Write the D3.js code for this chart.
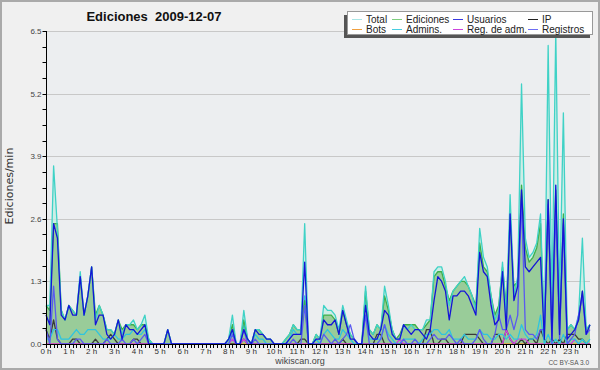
<!DOCTYPE html>
<html>
<head>
<meta charset="utf-8">
<script src="https://cdn.jsdelivr.net/npm/d3@7"></script>
<style>
  body { margin: 0; background: #fff; }
  svg text { font-family: "Liberation Sans", Arial, sans-serif; }
</style>
</head>
<body>
<svg id="chart" width="600" height="370"></svg>
<script>
// 10-minute buckets, edits per minute
const hourLabels = d3.range(24).map(h => h + " h");
const yTicks = [0, 1.3, 2.6, 3.9, 5.2, 6.5];

const total = [0.8,0.8,3.7,2.4,0.7,0.5,0.8,0.7,0.6,1.5,0.6,1.0,1.6,0.5,0.8,0.6,0.3,0.3,0.2,0.5,0.2,0.4,0.4,0.5,0.3,0.4,0.6,0.1,0,0,0,0,0.3,0,0,0,
  0,0,0,0,0,0,0,0,0,0,0,0,
  0.1,0.6,0,0,0.7,0.1,0,0.3,0.3,0.2,0.1,0.1,
  0,0,0,0.1,0.2,0.4,0.3,0.3,2.5,0,0,0.2,
  0.1,0.8,0.7,0.7,0.6,0.3,0.8,0.5,0.2,0.1,0,0,
  1.2,0.3,0.2,0.4,0.3,1.2,0.8,0.3,0.1,0.1,0.4,0.3,
  0.4,0.3,0.3,0.3,0.5,0.5,1.5,1.6,1.6,1.3,0.8,1.1,
  1.2,1.3,1.4,1.2,1.0,0.7,2.4,1.8,1.6,1.0,0.5,0.7,
  1.7,0.6,3.1,1.0,1.4,5.4,2.2,1.8,1.9,2.1,2.7,0.2,
  6.2,0.8,6.5,0.9,4.8,0.3,0.4,0.3,0.6,2.2,0.3,0.4];

const ediciones = [0.8,0.7,2.5,2.5,0.7,0.5,0.8,0.7,0.6,1.4,0.6,1.0,1.6,0.6,0.8,0.6,0.3,0.3,0.2,0.5,0.3,0.4,0.4,0.4,0.3,0.4,0.4,0.1,0,0,0,0,0.3,0,0,0,
  0,0,0,0,0,0,0,0,0,0,0,0,
  0.1,0.4,0,0,0.5,0.1,0,0.3,0.3,0.2,0.1,0.1,
  0,0,0,0.1,0.2,0.4,0.3,0.3,0.9,0,0,0.2,
  0.1,0.6,0.6,0.6,0.5,0.2,0.7,0.4,0.2,0.1,0,0,
  1.1,0.3,0.2,0.4,0.3,1.0,0.7,0.3,0.1,0.2,0.4,0.4,
  0.4,0.4,0.3,0.3,0.4,0.5,1.4,1.5,1.5,1.2,0.9,1.1,
  1.2,1.3,1.3,1.2,1.0,0.8,2.1,1.6,1.5,1.0,0.6,0.8,
  1.6,0.8,2.6,1.2,1.3,3.3,2.0,1.7,1.8,2.0,2.5,0.2,
  3.0,0.2,3.2,0.3,2.7,0.3,0.4,0.3,0.5,1.1,0.3,0.4];

const usuarios = [0.6,0.4,2.5,2.2,0.6,0.5,0.8,0.6,0.6,1.4,0.6,1.0,1.6,0.4,0.6,0.6,0.2,0.1,0.2,0.5,0.1,0.4,0.3,0.3,0.2,0.3,0.4,0,0,0,0,0,0.3,0,0,0,
  0,0,0,0,0,0,0,0,0,0,0,0,
  0.1,0.3,0,0,0.3,0.1,0,0.3,0.2,0.2,0.1,0.1,
  0,0,0,0,0.1,0.2,0.2,0.2,1.7,0,0,0.1,
  0.1,0.5,0.4,0.4,0.5,0.2,0.7,0.4,0.1,0.1,0,0,
  0.8,0.2,0.1,0.1,0.3,0.7,0.6,0.2,0.1,0.1,0.4,0.3,
  0.2,0.3,0.3,0.2,0.1,0.3,0.9,1.4,1.3,1.1,0.5,1.0,
  1.0,1.1,1.1,1.0,0.8,0.6,1.9,1.5,1.4,0.8,0.4,0.5,
  1.5,0.3,2.7,0.9,1.2,3.2,1.6,1.5,1.6,1.7,1.8,0.1,
  3.0,0.1,3.3,0.2,2.6,0.1,0.2,0.3,0.5,1.1,0.2,0.4];

const ip = [0.3,0.1,0.5,0.1,0,0,0,0.1,0.1,0,0,0,0,0.1,0,0,0.1,0.2,0.1,0,0,0,0,0.1,0.1,0,0,0,0,0,0,0,0,0,0,0,
  0,0,0,0,0,0,0,0,0,0,0,0,
  0,0,0,0,0.1,0,0,0,0,0,0,0,
  0,0,0,0,0,0,0,0.1,0.1,0,0,0,
  0,0,0,0,0,0,0.1,0,0,0,0,0,
  0,0,0,0.2,0.2,0,0,0,0,0,0,0,
  0,0,0,0,0.3,0.3,0,0,0.1,0.1,0,0,
  0,0,0.2,0.2,0.2,0.2,0.1,0,0,0,0.2,0.2,
  0,0.3,0.1,0,0,0.1,0,0.1,0.1,0,0.3,0.1,
  0,0.1,0,0.1,0,0.2,0.2,0.2,0.1,0.1,0,0];

const bots = d3.range(144).map(() => 0);

const admins = [0.1,0.1,0.3,0.3,0.1,0.1,0.1,0.2,0.3,0.2,0.2,0.3,0.3,0.3,0.2,0.1,0.1,0.1,0.2,0.1,0.1,0.2,0.2,0.3,0.2,0.2,0.3,0.1,0,0,0,0,0,0,0,0,
  0,0,0,0,0,0,0,0,0,0,0,0,
  0,0.3,0,0,0.4,0.1,0,0.2,0.1,0.1,0,0,
  0,0,0,0,0.1,0.3,0.2,0.2,1.0,0,0,0.1,
  0,0.2,0.3,0.2,0.1,0.1,0.3,0.2,0.1,0,0,0,
  0.9,0.1,0.1,0.1,0.1,0.4,0.2,0.1,0,0,0.1,0.1,
  0.1,0.1,0,0.1,0.2,0.2,0.3,0.3,0.2,0.2,0.3,0.1,
  0.1,0.1,0.2,0.1,0.1,0.1,0.3,0.2,0.2,0.1,0.1,0.2,
  0.2,0.1,0.2,0.1,0.1,0.4,0.2,0.1,0.1,0.2,0.6,0,
  0.2,0,0.1,0,0.2,0,0.1,0.1,0,0.1,0,0.1];

const registros = [0.3,0,1.2,0.1,0,0,0,0,0.1,0.1,0,0,0,0,0,0,0.1,0,0,0,0.1,0,0,0.1,0,0.1,0.2,0,0,0,0,0,0,0,0,0,
  0,0,0,0,0,0,0,0,0,0,0,0,
  0,0.2,0,0,0.3,0,0,0.1,0,0,0,0,
  0,0,0,0,0,0.1,0,0,0.8,0,0,0,
  0,0.2,0.1,0,0.1,0,0.1,0.2,0.4,0.1,0,0,
  0.6,0,0,0,0.1,0.4,0.1,0,0,0,0.1,0,
  0,0.1,0,0,0,0.1,0.2,0.1,0.1,0.1,0.2,0.1,
  0,0.1,0,0,0,0.1,0.3,0.1,0,0,0.2,0.6,
  0.3,0.3,0.6,0.3,0.6,3.0,0.3,0.2,0.2,0.1,0.3,0.3,
  2.9,0,2.8,0.1,2.5,0,0.1,0.2,0.6,1.0,0.2,0.3];

const regAdm = [0,0,0,0,0,0,0,0,0,0,0,0,0,0,0,0,0,0,0,0,0,0,0,0,0,0,0,0,0,0,0,0,0,0,0,0,
  0,0,0,0,0,0,0,0,0,0,0,0,
  0,0.1,0,0,0.1,0,0,0,0,0,0,0,
  0,0,0,0,0,0,0,0,0,0,0,0,
  0,0,0,0,0,0,0,0,0,0,0,0,
  0,0,0,0,0,0,0,0,0,0.1,0,0,
  0,0,0,0,0,0,0,0,0,0,0,0,
  0,0,0,0,0,0,0,0,0,0,0,0,
  0,0.3,0.1,0,0.1,0.1,0.1,0,0,0,0,0,
  0,0,0,0,0,0,0,0.1,0,0,0,0];

const legendNames = ["Total", "Ediciones", "Usuarios", "IP", "Bots", "Admins.", "Reg. de adm.", "Registros"];
const legendColors = ["#a9e6e6", "#7fcf7f", "#3a3ae0", "#222222", "#f0a040", "#48cde0", "#cc44dd", "#6e6ef2"];

const svg = d3.select("#chart");

const x = d3.scaleLinear().domain([0, 143]).range([46, 590]);
const y = d3.scaleLinear().domain([0, 6.5]).range([344, 31]);

// background + frame
svg.append("rect").attr("x", 0).attr("y", 0).attr("width", 600).attr("height", 370).attr("fill", "#f0f0f0");
svg.append("rect").attr("x", 1).attr("y", 1).attr("width", 598).attr("height", 368)
  .attr("fill", "none").attr("stroke", "#aaaaaa").attr("stroke-width", 2);

// plot area
svg.append("rect").attr("x", 46).attr("y", 31).attr("width", 544).attr("height", 313).attr("fill", "#eceef0");

// grid
svg.append("g").selectAll("line").data(yTicks.slice(1)).join("line")
  .attr("x1", 46).attr("x2", 590)
  .attr("y1", d => Math.round(y(d)) + 0.5).attr("y2", d => Math.round(y(d)) + 0.5)
  .attr("stroke", "#c8c8c8").attr("stroke-width", 1);

const idx = d3.range(144);
const area = vals => d3.area().x(i => x(i)).y0(y(0)).y1(i => y(vals[i]))(idx);
const line = vals => d3.line().x(i => x(i)).y(i => y(vals[i]))(idx);

const plot = svg.append("g");
plot.append("path").attr("d", area(total)).attr("fill", "#c4ece4").attr("opacity", 0.8);
plot.append("path").attr("d", area(ediciones)).attr("fill", "#99cc99");

const lines = [
  [bots, "#f0a040"],
  [ip, "#3a3a3a"],
  [regAdm, "#cc44dd"],
  [admins, "#2ec4e0"],
  [ediciones, "#3db04a"],
  [total, "#3fd2c6"],
  [registros, "#5a5af0"],
  [usuarios, "#1414d8"]
];
lines.forEach(([vals, c]) => {
  plot.append("path").attr("d", line(vals)).attr("fill", "none")
    .attr("stroke", c).attr("stroke-width", 1.3).attr("stroke-linejoin", "round");
});

// y axis
const minor = d3.range(0, 6.5001, 0.325);
const yAxis = svg.append("g").attr("transform", "translate(46.5,0)");
yAxis.append("line").attr("x1", 0).attr("x2", 0).attr("y1", 31).attr("y2", 344).attr("stroke", "#000");
yAxis.selectAll(".mt").data(minor).join("line")
  .attr("x1", -4).attr("x2", 0)
  .attr("y1", d => Math.round(y(d)) + 0.5).attr("y2", d => Math.round(y(d)) + 0.5)
  .attr("stroke", "#000");
yAxis.selectAll("text").data(yTicks).join("text")
  .attr("x", -5).attr("y", d => y(d) + 3)
  .attr("text-anchor", "end").attr("font-size", 8).attr("fill", "#444")
  .text(d => d3.format(".1f")(d));

// x axis
const xAxis = svg.append("g");
xAxis.append("line").attr("x1", 46).attr("x2", 590).attr("y1", 344.5).attr("y2", 344.5).attr("stroke", "#000");
xAxis.selectAll(".xt").data(idx).join("line")
  .attr("x1", i => Math.round(x(i)) + 0.5).attr("x2", i => Math.round(x(i)) + 0.5)
  .attr("y1", 344).attr("y2", 348).attr("stroke", "#000");
xAxis.selectAll("text").data(hourLabels).join("text")
  .attr("x", (d, h) => x(h * 6)).attr("y", 354)
  .attr("text-anchor", "middle").attr("font-size", 8).attr("fill", "#333")
  .text(d => d);

// titles
svg.append("text").attr("x", 154).attr("y", 21).attr("text-anchor", "middle")
  .attr("font-size", 13).attr("font-weight", "bold").attr("fill", "#111")
  .text("Ediciones  2009-12-07").style("white-space", "pre");
svg.append("text").attr("transform", "translate(13,186) rotate(-90)")
  .attr("text-anchor", "middle").attr("font-size", 11).attr("fill", "#333")
  .style("font-family", "'DejaVu Sans', sans-serif")
  .text("Ediciones/min");
svg.append("text").attr("x", 300).attr("y", 364).attr("text-anchor", "middle")
  .attr("font-size", 9).attr("fill", "#444").text("wikiscan.org");
svg.append("text").attr("x", 589).attr("y", 365).attr("text-anchor", "end")
  .attr("font-size", 6.5).attr("fill", "#555").text("CC BY-SA 3.0");

// legend
const lg = svg.append("g");
lg.append("rect").attr("x", 344).attr("y", 15).attr("width", 246).attr("height", 23).attr("fill", "#555");
lg.append("rect").attr("x", 347.5).attr("y", 11.5).attr("width", 245).attr("height", 23)
  .attr("fill", "#fff").attr("stroke", "#999");
const colX = [352, 392, 453, 528];
legendNames.forEach((name, k) => {
  const cx = colX[k % 4], row = Math.floor(k / 4);
  const ly = row === 0 ? 19.5 : 29.5;
  lg.append("line").attr("x1", cx).attr("x2", cx + 10).attr("y1", ly).attr("y2", ly)
    .attr("stroke", legendColors[k]).attr("stroke-width", 1);
  lg.append("text").attr("x", cx + 14).attr("y", ly + 3.5)
    .attr("font-size", 10).attr("fill", "#222").text(name);
});
</script>
</body>
</html>
